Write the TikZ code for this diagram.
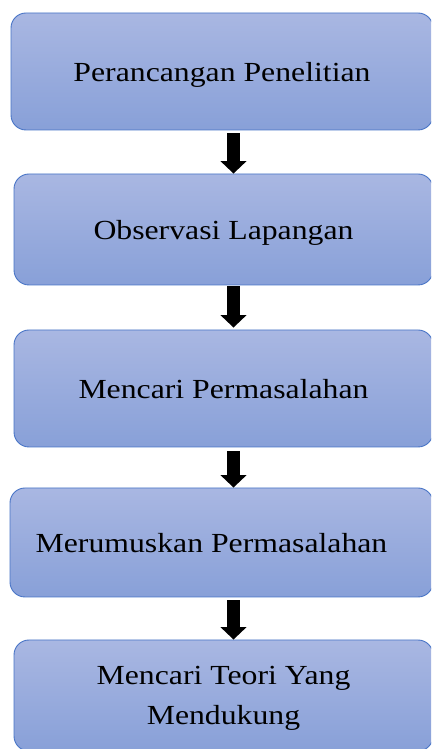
\documentclass[tikz,border=0pt]{standalone}
\usepackage{fontspec}
\setmainfont{Liberation Serif}[FakeStretch=1.15]
\usetikzlibrary{arrows.meta}

\definecolor{boxtop}{RGB}{169,183,226}
\definecolor{boxbot}{RGB}{136,160,216}
\definecolor{boxline}{RGB}{72,116,198}

\tikzset{
  stepbox/.style={draw=boxline, line width=0.9pt, rounded corners=15pt,
    top color=boxtop, bottom color=boxbot, shading angle=0,
    text depth=0pt, align=center,
    font=\fontsize{27.6}{40}\selectfont},
  downarrow/.style={line width=12.5pt, -{Triangle[width=25.5pt,length=12.5pt]}}
}

\begin{document}
\begin{tikzpicture}[x=1pt,y=1pt]
        \useasboundingbox (0,0) rectangle (431,749);
        \clip (0,0) rectangle (431,749);

        \coordinate (ax) at (233.5,0);

        \node[stepbox, minimum width=422, minimum height=117] (b1) at (222,677.5)
            {Perancangan Penelitian};
        \node[stepbox, minimum width=419, minimum height=111] (b2) at (223.5,519.5)
            {Observasi Lapangan};
        \node[stepbox, minimum width=419, minimum height=117] (b3) at (223.5,360.5)
            {Mencari Permasalahan};
        \node[stepbox, minimum width=423, minimum height=109] (b4) at (221.5,206.5)
            {Merumuskan Permasalahan\hspace*{20pt}};
        \node[stepbox, minimum width=419, minimum height=111] (b5) at (223.5,53.5)
            {Mencari Teori Yang\\Mendukung};

        % panah antar langkah
        \draw[downarrow] ([yshift=-3pt]b1.south -| ax) -- (b2.north -| ax);
        \draw[downarrow] ([yshift=-1pt]b2.south -| ax) -- ([yshift=2pt]b3.north -| ax);
        \draw[downarrow] ([yshift=-4pt]b3.south -| ax) -- (b4.north -| ax);
        \draw[downarrow] ([yshift=-3pt]b4.south -| ax) -- (b5.north -| ax);
\end{tikzpicture}
\end{document}
